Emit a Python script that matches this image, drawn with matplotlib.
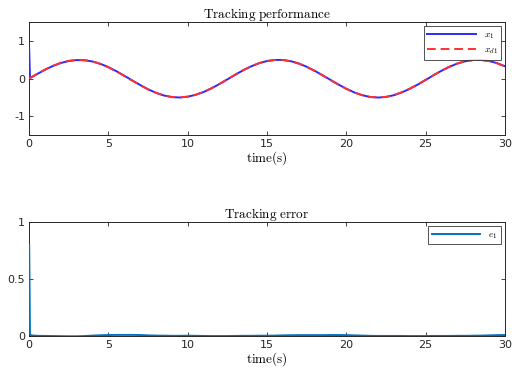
import numpy as np
from matplotlib import pyplot as plt

# time grid (s), denser at the start to catch the initial transient
time = [0, 0.05, 0.1, 0.2, 0.3, 0.5, 1, 1.5, 2, 2.5, 3, 3.5, 4, 4.5, 5, 5.5, 6, 6.5,
        7, 7.5, 8, 8.5, 9, 9.5, 10, 10.5, 11, 11.5, 12, 12.5, 13, 13.5, 14, 14.5,
        15, 15.5, 16, 16.5, 17, 17.5, 18, 18.5, 19, 19.5, 20, 20.5, 21, 21.5, 22,
        22.5, 23, 23.5, 24, 24.5, 25, 25.5, 26, 26.5, 27, 27.5, 28, 28.5, 29, 29.5, 30]

# desired trajectory x_d1
xd1 = [0.000, 0.012, 0.025, 0.050, 0.075, 0.124, 0.240, 0.341, 0.421, 0.474, 0.499,
       0.492, 0.455, 0.389, 0.299, 0.191, 0.071, -0.054, -0.175, -0.286, -0.378,
       -0.448, -0.489, -0.500, -0.479, -0.429, -0.353, -0.254, -0.140, -0.017, 0.108,
       0.225, 0.328, 0.412, 0.469, 0.497, 0.495, 0.461, 0.399, 0.312, 0.206, 0.087,
       -0.038, -0.160, -0.272, -0.368, -0.440, -0.486, -0.500, -0.485, -0.438, -0.363,
       -0.268, -0.156, -0.033, 0.092, 0.210, 0.316, 0.402, 0.463, 0.495, 0.497, 0.467,
       0.409, 0.325]

# tracking error e_1
e1 = [0.800, 0.015, 0.004, 0.001, 0.000, -0.002, -0.003, -0.004, -0.005, -0.006, -0.006,
      -0.004, 0.000, 0.003, 0.005, 0.006, 0.006, 0.006, 0.005, 0.002, 0.000, -0.001,
      -0.002, -0.002, -0.001, -0.002, -0.003, -0.004, -0.004, -0.004, -0.003, -0.002,
      -0.002, -0.001, -0.001, 0.000, 0.002, 0.003, 0.004, 0.004, 0.004, 0.004, 0.005,
      0.005, 0.004, 0.002, 0.000, -0.002, -0.003, -0.003, -0.003, -0.003, -0.004,
      -0.004, -0.004, -0.003, -0.003, -0.003, -0.002, -0.002, -0.001, 0.000, 0.002,
      0.004, 0.005]

# system output x_1 = x_d1 + e_1
x1 = [d + e for d, e in zip(xd1, e1)]

plt.rcParams['mathtext.fontset'] = 'cm'
plt.rcParams['font.family'] = 'DejaVu Sans'


def style_axes(ax, yticks, ylim, title):
    ax.set_xlim(0, 30)
    ax.set_ylim(*ylim)
    ax.set_xticks([0, 5, 10, 15, 20, 25, 30])
    ax.set_yticks(yticks)
    ax.tick_params(direction='in', top=True, right=True, length=3, width=0.6,
                   labelsize=8, colors='#262626', pad=3)
    for sp in ax.spines.values():
        sp.set_color('#262626')
        sp.set_linewidth(0.7)
    ax.set_title(r'$\mathrm{' + title.replace(' ', r'\ ') + '}$', fontsize=9.5, pad=3)
    ax.set_xlabel(r'$\mathrm{time(s)}$', fontsize=9.5, labelpad=0)


fig = plt.figure(figsize=(5.12, 3.7), dpi=100)

ax1 = fig.add_axes([0.057, 0.635, 0.929, 0.305])
ax1.plot(time, x1, color='#2a2aff', lw=1.4, label=r'$x_1$', zorder=3)
ax1.plot(time, xd1, color='#ff3030', lw=1.4, ls=(0, (4.5, 2.5)), label=r'$x_{d1}$', zorder=3)
style_axes(ax1, [-1, 0, 1], (-1.5, 1.5), 'Tracking performance')
ax1.set_yticklabels(['-1', '0', '1'])
ax1.legend(loc='upper right', fontsize=7, frameon=True, fancybox=False,
           edgecolor='#262626', handlelength=5.0, borderpad=0.35, labelspacing=0.35,
           borderaxespad=0.4).get_frame().set_linewidth(0.7)

ax2 = fig.add_axes([0.057, 0.093, 0.929, 0.307])
ax2.plot(time, e1, color='#0072bd', lw=1.4, label=r'$e_1$', zorder=3)
style_axes(ax2, [0, 0.5, 1], (0, 1), 'Tracking error')
ax2.set_yticklabels(['0', '0.5', '1'])
ax2.legend(loc='upper right', fontsize=7, frameon=True, fancybox=False,
           edgecolor='#262626', handlelength=5.0, borderpad=0.35,
           borderaxespad=0.4).get_frame().set_linewidth(0.7)

fig.savefig('out.png', dpi=100)
